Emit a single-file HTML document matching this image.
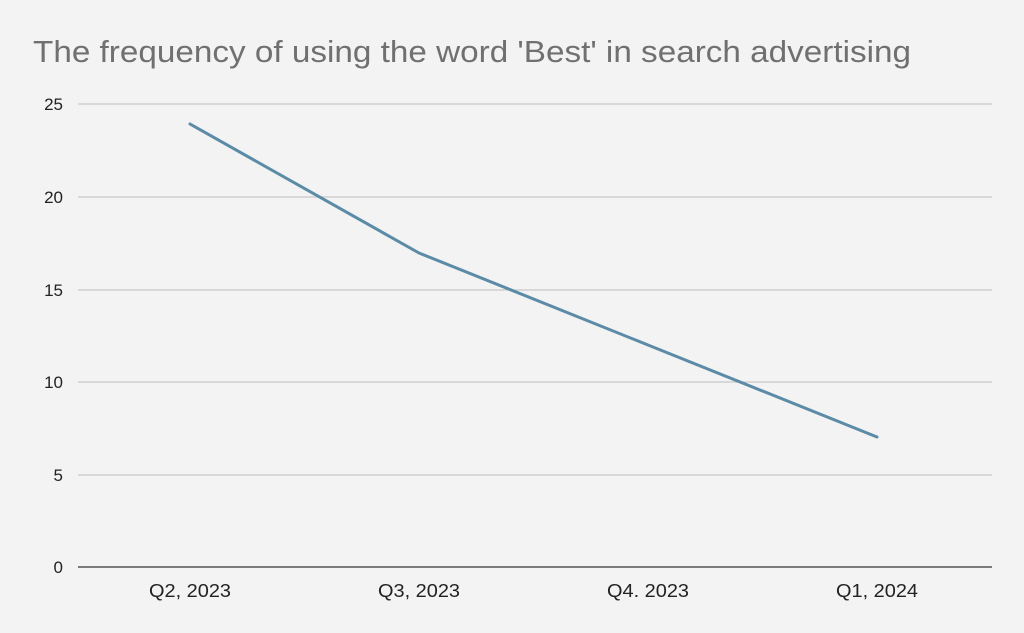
<!DOCTYPE html>
<html><head><style>html,body{margin:0;padding:0;background:#f3f3f3;}</style></head>
<body>
<svg width="1024" height="633" xmlns="http://www.w3.org/2000/svg" style="display:block">
<rect width="1024" height="633" fill="#f3f3f3"/>
<text x="33" y="62" font-family="Liberation Sans, sans-serif" font-size="31" fill="#707070" textLength="878" lengthAdjust="spacingAndGlyphs">The frequency of using the word 'Best' in search advertising</text>
<g stroke="#c8c8c8" stroke-width="1.3">
<line x1="78" x2="992" y1="104" y2="104"/>
<line x1="78" x2="992" y1="197" y2="197"/>
<line x1="78" x2="992" y1="290" y2="290"/>
<line x1="78" x2="992" y1="382" y2="382"/>
<line x1="78" x2="992" y1="475" y2="475"/>
</g>
<line x1="78" x2="992" y1="567" y2="567" stroke="#333" stroke-width="1.3"/>
<g font-family="Liberation Sans, sans-serif" font-size="17" fill="#222" text-anchor="end">
<text x="63" y="110">25</text>
<text x="63" y="203">20</text>
<text x="63" y="296">15</text>
<text x="63" y="388">10</text>
<text x="63" y="481">5</text>
<text x="63" y="573">0</text>
</g>
<g font-family="Liberation Sans, sans-serif" font-size="18" fill="#222" text-anchor="middle">
<text x="190" y="597" textLength="82" lengthAdjust="spacingAndGlyphs">Q2, 2023</text>
<text x="419" y="597" textLength="82" lengthAdjust="spacingAndGlyphs">Q3, 2023</text>
<text x="648" y="597" textLength="82" lengthAdjust="spacingAndGlyphs">Q4. 2023</text>
<text x="877" y="597" textLength="82" lengthAdjust="spacingAndGlyphs">Q1, 2024</text>
</g>
<polyline points="190,124 419,253 648,345 877,437" fill="none" stroke="#5b8ba6" stroke-width="3" stroke-linejoin="round" stroke-linecap="round"/>
</svg>
</body></html>
